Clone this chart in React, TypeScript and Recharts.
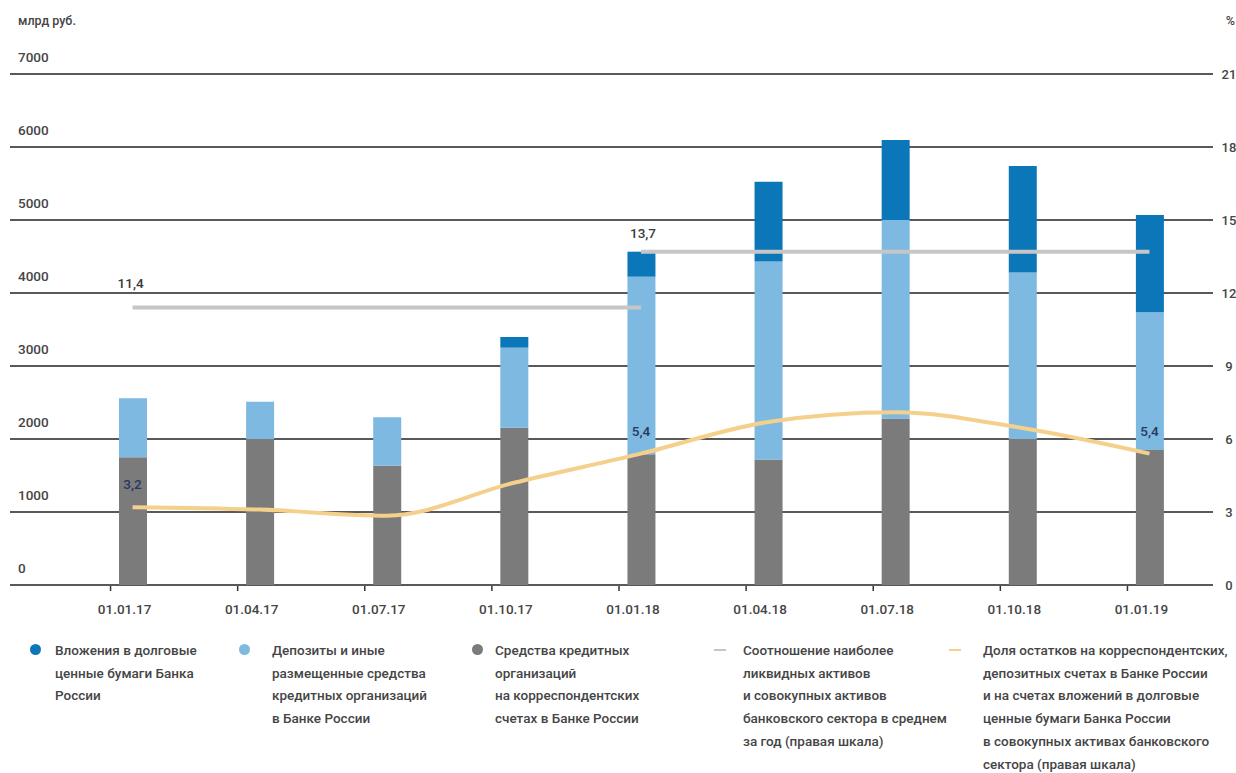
import { ComposedChart, Bar, Line, XAxis, YAxis, CartesianGrid, LabelList } from 'recharts'

const dates = ['01.01.17', '01.04.17', '01.07.17', '01.10.17', '01.01.18', '01.04.18', '01.07.18', '01.10.18', '01.01.19']
// млрд руб.
const corrAccounts = [1750, 2000, 1635, 2155, 1790, 1720, 2280, 2000, 1850]
const deposits = [807, 510, 662, 1096, 2433, 2710, 2720, 2280, 1885]
const securities = [0, 0, 0, 146, 343, 1095, 1096, 1460, 1333]
// %
const shareInAssets = [3.2, 3.1, 2.85, 4.2, 5.4, 6.7, 7.1, 6.45, 5.4]
const liquid2017 = [11.4, 11.4, 11.4, 11.4, 11.4, null, null, null, null]
const liquid2018 = [null, null, null, null, 13.7, 13.7, 13.7, 13.7, 13.7]
const shareLabels = ['3,2', '', '', '', '5,4', '', '', '', '5,4']
const liquid2017Labels = ['11,4', '', '', '', '', '', '', '', '']
const liquid2018Labels = ['', '', '', '', '13,7', '', '', '', '']

const leftTicks = [0, 1000, 2000, 3000, 4000, 5000, 6000, 7000]
const rightTicks = [0, 3, 6, 9, 12, 15, 18, 21]

const legendItems = [
  { kind: 'dot', color: '#0b77b8', x: 30, textX: 25, lines: ['Вложения в долговые', 'ценные бумаги Банка', 'России'] },
  { kind: 'dot', color: '#7db9e0', x: 239, textX: 33, lines: ['Депозиты и иные', 'размещенные средства', 'кредитных организаций', 'в Банке России'] },
  { kind: 'dot', color: '#7b7b7b', x: 472, textX: 23, lines: ['Средства кредитных', 'организаций', 'на корреспондентских', 'счетах в Банке России'] },
  { kind: 'dash', color: '#c6c6c6', x: 714, textX: 29, lines: ['Соотношение наиболее', 'ликвидных активов', 'и совокупных активов', 'банковского сектора в среднем', 'за год (правая шкала)'] },
  { kind: 'dash', color: '#f5d08c', x: 949, textX: 34, lines: ['Доля остатков на корреспондентских,', 'депозитных счетах в Банке России', 'и на счетах вложений в долговые', 'ценные бумаги Банка России', 'в совокупных активах банковского', 'сектора (правая шкала)'] },
]

const data = dates.map((d, i) => ({
  date: d,
  corr: corrAccounts[i],
  dep: deposits[i],
  sec: securities[i],
  share: shareInAssets[i],
  l17: liquid2017[i],
  l18: liquid2018[i],
}))

const FONT = 'Roboto, "Noto Sans", sans-serif'
const TEXT = '#454545'

const XTick = (props: any) => {
  const { x, y, payload } = props
  return (
    <g>
      <line x1={x - 22} x2={x - 22} y1={y + 1} y2={y + 6} stroke="#333" strokeWidth={1.5} />
      <text x={x - 8} y={y + 29} textAnchor="middle" fontFamily={FONT} fontSize={13.5} fontWeight={500} fill={TEXT}>
        {payload.value}
      </text>
    </g>
  )
}

const LeftTick = (props: any) => {
  const { y, payload } = props
  return (
    <text x={18} y={y - 12} fontFamily={FONT} fontSize={13.5} fontWeight={500} fill={TEXT}>
      {payload.value}
    </text>
  )
}

const RightTick = (props: any) => {
  const { y, payload } = props
  return (
    <text x={1229} y={y + 5} textAnchor="middle" fontFamily={FONT} fontSize={13} fontWeight={500} fill={TEXT}>
      {payload.value}
    </text>
  )
}

const makeLabel = (texts: string[], dx: number, dy: number, color: string) => (props: any) => {
  const { x, y, index } = props
  const t = texts[index]
  if (!t) return null
  return (
    <text x={x + dx} y={y + dy} textAnchor="middle" fontFamily={FONT} fontSize={13.5} fontWeight={500} fill={color}>
      {t}
    </text>
  )
}

export default function App() {
  return (
    <div style={{ position: 'absolute', left: 0, top: 0, width: 1236, height: 773, background: '#fff', fontFamily: FONT }}>
      <div style={{ position: 'absolute', left: 18, top: 13, fontSize: 12.5, fontWeight: 500, color: TEXT }}>млрд руб.</div>
      <div style={{ position: 'absolute', right: 1, top: 13, fontSize: 12.5, fontWeight: 500, color: TEXT }}>%</div>
      <ComposedChart width={1236} height={773} data={data} margin={{ top: 74, right: 0, bottom: 148, left: 9 }}>
        <CartesianGrid vertical={false} stroke="#222" strokeWidth={1.5} yAxisId="left" />
        <XAxis dataKey="date" height={40} padding={{ left: 59, right: 0 }} axisLine={false} tickLine={false} tickSize={0} tickMargin={0} interval={0} tick={<XTick />} />
        <YAxis yAxisId="left" domain={[0, 7000]} ticks={leftTicks} width={1} axisLine={false} tickLine={false} interval={0} tick={<LeftTick />} />
        <YAxis yAxisId="right" orientation="right" domain={[0, 21]} ticks={rightTicks} width={23} axisLine={false} tickLine={false} interval={0} tick={<RightTick />} />
        <Bar yAxisId="left" dataKey="corr" stackId="a" fill="#7b7b7b" barSize={28} isAnimationActive={false} />
        <Bar yAxisId="left" dataKey="dep" stackId="a" fill="#7db9e0" barSize={28} isAnimationActive={false} />
        <Bar yAxisId="left" dataKey="sec" stackId="a" fill="#0b77b8" barSize={28} isAnimationActive={false} />
        <Line yAxisId="right" dataKey="l17" stroke="#c6c6c6" strokeWidth={4} dot={false} isAnimationActive={false}>
          <LabelList dataKey="l17" content={makeLabel(liquid2017Labels, -2, -20, '#3a3a3a')} />
        </Line>
        <Line yAxisId="right" dataKey="l18" stroke="#c6c6c6" strokeWidth={4} dot={false} isAnimationActive={false}>
          <LabelList dataKey="l18" content={makeLabel(liquid2018Labels, 2, -14, '#3a3a3a')} />
        </Line>
        <Line yAxisId="right" type="monotone" dataKey="share" stroke="#f5d08c" strokeWidth={4} dot={false} isAnimationActive={false}>
          <LabelList dataKey="share" content={makeLabel(shareLabels, 0, -18, '#253a5e')} />
        </Line>
      </ComposedChart>
      {legendItems.map((item, i) => (
        <div key={i} style={{ position: 'absolute', left: item.x, top: 639 }}>
          {item.kind === 'dot' ? (
            <div style={{ position: 'absolute', left: 0, top: 5, width: 11, height: 11, borderRadius: 6, background: item.color }} />
          ) : (
            <div style={{ position: 'absolute', left: 0, top: 10, width: 12, height: 2, background: item.color }} />
          )}
          <div style={{ position: 'absolute', left: item.textX, top: 0, whiteSpace: 'nowrap', fontSize: 13.5, fontWeight: 500, lineHeight: '22.7px', color: TEXT }}>
            {item.lines.map((l, j) => (
              <div key={j}>{l}</div>
            ))}
          </div>
        </div>
      ))}
    </div>
  )
}
